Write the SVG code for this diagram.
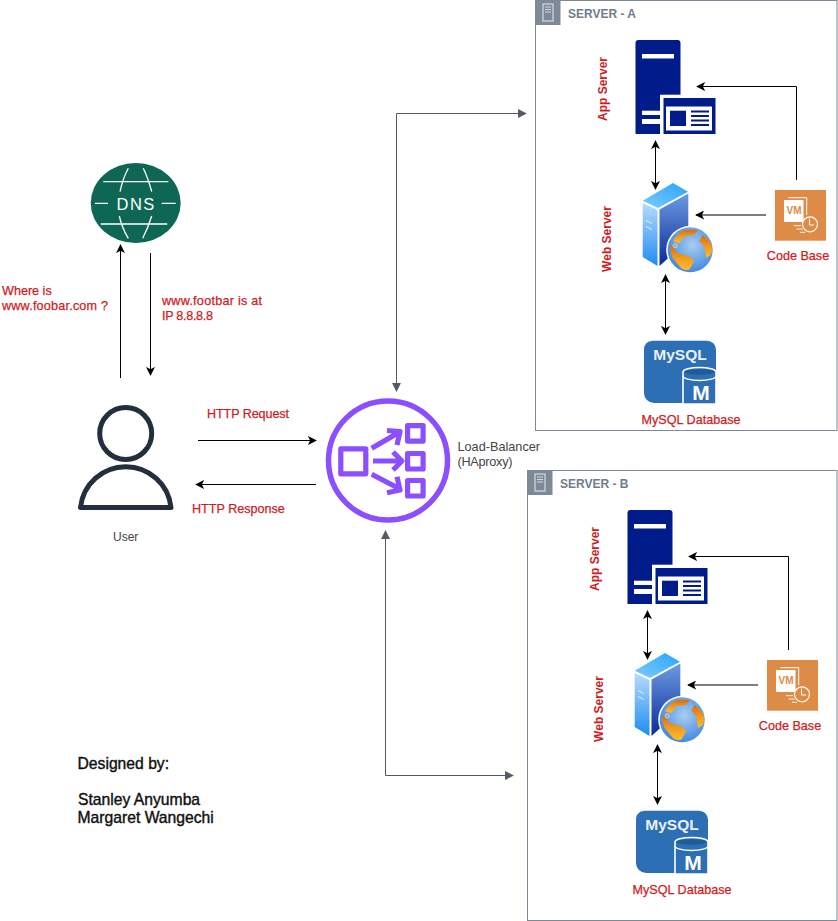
<svg xmlns="http://www.w3.org/2000/svg" width="838" height="921" viewBox="0 0 838 921">
<style>
text{font-family:"Liberation Sans",Arial,sans-serif}
.red{fill:#d01c1f;font-size:12px;font-weight:bold}
.redn{fill:#d01c1f;stroke:#d01c1f;stroke-width:0.25px;font-size:12.600px}
.grey{fill:#444;font-size:12.700px}
.des{fill:#111;stroke:#111;stroke-width:0.4px;font-size:15.700px}
.hdr{fill:#6f7c8c;font-size:12px;font-weight:bold}
.blk{fill:none;stroke:#000;stroke-width:1}
.gr{fill:none;stroke:#545b64;stroke-width:1}
.box{fill:#fff;stroke:#7d8998;stroke-width:1}
.w{fill:#fff}
.nb{fill:#001b8a}
</style>
<defs>
<marker id="ab" viewBox="0 0 10 10" refX="9" refY="5" markerWidth="9" markerHeight="9" markerUnits="userSpaceOnUse" orient="auto-start-reverse"><path d="M0 0L10 5L0 10L2.500 5Z" fill="#000"/></marker>
<marker id="ag" viewBox="0 0 10 10" refX="9" refY="5" markerWidth="9" markerHeight="9" markerUnits="userSpaceOnUse" orient="auto-start-reverse"><path d="M0 0L10 5L0 10Z" fill="#545b64"/></marker>
<linearGradient id="srvTop" x1="0" y1="1" x2="1" y2="0"><stop offset="0" stop-color="#7ccbff"/><stop offset="1" stop-color="#2aa5f7"/></linearGradient>
<linearGradient id="srvL" x1="0" y1="0" x2="0" y2="1"><stop offset="0" stop-color="#b5dcfd"/><stop offset="1" stop-color="#1e8cf2"/></linearGradient>
<linearGradient id="srvR" x1="0" y1="0" x2="0" y2="1"><stop offset="0" stop-color="#6c9be0"/><stop offset="1" stop-color="#0a2a9a"/></linearGradient>
<radialGradient id="sea" cx="0.55" cy="0.4" r="0.7"><stop offset="0" stop-color="#a9cdf0"/><stop offset="1" stop-color="#2f7fe0"/></radialGradient>
<linearGradient id="land" x1="0" y1="0" x2="0" y2="1"><stop offset="0" stop-color="#d96a12"/><stop offset="0.5" stop-color="#f09a1c"/><stop offset="1" stop-color="#ffbb30"/></linearGradient>
<g id="hdrIcon">
<rect x="0" y="0" width="25" height="25" fill="#7d8998"/>
<rect x="7.500" y="4" width="10" height="17" fill="none" stroke="#d5dae0" stroke-width="1.200"/>
<path d="M9.500 7h6M9.500 9.500h6M9.500 12h6" stroke="#d5dae0" stroke-width="1"/>
</g>
<g id="appIcon">
<path class="nb" d="M635.500 43a3 3 0 0 1 3-3h39a3 3 0 0 1 3 3v91h-45z"/>
<rect class="w" x="642" y="54" width="32" height="4.500"/>
<rect class="w" x="642" y="110.700" width="19" height="4.300"/>
<rect class="w" x="642" y="119" width="19" height="5"/>
<rect class="w" x="660" y="94.700" width="56" height="39.300"/>
<rect class="nb" x="663.500" y="98" width="52" height="36"/>
<rect class="w" x="666" y="106.500" width="46" height="24"/>
<rect class="nb" x="670" y="110.700" width="16" height="15.300"/>
<path d="M691 111.500h18M691 116h18M691 120.500h18M691 125h18" stroke="#001b8a" stroke-width="2"/>
</g>
<g id="webIcon">
<path d="M642.700 200.700L673 183L688 191.700L658 208Z" fill="url(#srvTop)"/>
<path d="M642.700 203L657.500 210V266L642.700 257Z" fill="url(#srvL)"/>
<path d="M659.500 209.500L688.300 193.500V240L659.500 266Z" fill="url(#srvR)"/>
<path d="M646 220.500l6 3M646 226.500l6 3" stroke="#e8f2fc" stroke-width="1"/>
<circle cx="690.200" cy="249.800" r="24" fill="#fff"/>
<circle cx="690.200" cy="249.800" r="22.500" fill="url(#sea)"/>
<path d="M672.700 241.300Q678 232 686 229.700L697.700 229.700L694.300 234.700L684.300 236.300L679.300 243Z" fill="url(#land)"/>
<path d="M671 244.700L677.700 253L689.300 256.300L694.300 261.300L689.300 269.700Q684 271 681 268L672.700 258Q669 250 671 244.700Z" fill="url(#land)"/>
<path d="M702.700 234.700L711 243Q713 250 711 254.700L706 258L704.300 246.300L699.300 241.300Z" fill="url(#land)"/>
<circle cx="675.300" cy="245.700" r="2.200" fill="#8fb5dc" stroke="#e6c9a0" stroke-width="0.800"/>
</g>
<g id="vmIcon">
<rect x="775" y="190" width="51" height="50.700" fill="#dd8b47"/>
<path d="M788.300 197.700H806.700V215" fill="none" stroke="#fff" stroke-width="1"/>
<rect x="784" y="200" width="19.500" height="22" fill="#fff"/>
<text x="794" y="214.300" text-anchor="middle" style="font-size:10px;font-weight:bold;fill:#dd8b47">VM</text>
<circle cx="810" cy="224.300" r="7.500" fill="#dd8b47" stroke="#fff" stroke-width="1.200"/>
<path d="M809.500 218.500v6.500h4.500" fill="none" stroke="#fff" stroke-width="1"/>
<path d="M794 225.700h7M796.700 229h6M800 232.300h5" stroke="#fff" stroke-width="0.900"/>
</g>
<g id="mysqlIcon">
<path d="M652 340.700h55a9 9 0 0 1 9 9v53.300h-62a10 10 0 0 1-10-10v-44a8 8 0 0 1 8-8z" fill="#2d6fb5"/>
<text x="680" y="359.500" text-anchor="middle" style="font-size:15.500px;font-weight:bold;fill:#eaf1f8">MySQL</text>
<path d="M683 372a16.500 4.500 0 0 1 33 0v32h-33z" fill="#2d6fb5" stroke="#fff" stroke-width="1.600"/>
<path d="M683 376a16.500 4.500 0 0 0 33 0" fill="none" stroke="#fff" stroke-width="1.400"/>
<ellipse cx="699.500" cy="372" rx="14.500" ry="2.800" fill="#1f5a99"/>
<text x="701" y="399.500" text-anchor="middle" style="font-size:21px;font-weight:bold;fill:#fff">M</text>
</g>
</defs>
<rect width="838" height="921" fill="#fff"/>

<g id="server-a">
<rect class="box" x="535.500" y="0.500" width="301.500" height="430"/>
<use href="#hdrIcon" x="535.500" y="0"/>
<text class="hdr" x="568" y="18">SERVER - A</text>
</g>
<g id="server-b">
<rect class="box" x="527.500" y="470.500" width="309.500" height="450"/>
<use href="#hdrIcon" x="527.500" y="470"/>
<text class="hdr" x="560" y="488">SERVER - B</text>
</g>

<g id="connectors">
<path class="blk" marker-end="url(#ab)" d="M120.500 378V245"/>
<path class="blk" marker-end="url(#ab)" d="M150.500 253V375"/>
<path class="blk" marker-end="url(#ab)" d="M198 440.500H316"/>
<path class="blk" marker-end="url(#ab)" d="M316 484.500H196"/>
<path class="gr" marker-start="url(#ag)" marker-end="url(#ag)" d="M396.500 391V113.500H526"/>
<path class="gr" marker-start="url(#ag)" marker-end="url(#ag)" d="M385.500 531V775.500H513"/>
<g id="conn-a">
<path class="blk" marker-end="url(#ab)" d="M796.500 180V86.500H697"/>
<path class="blk" marker-end="url(#ab)" d="M766 215H696"/>
<path class="blk" marker-start="url(#ab)" marker-end="url(#ab)" d="M655.500 141V189"/>
<path class="blk" marker-start="url(#ab)" marker-end="url(#ab)" d="M665.500 275V334"/>
</g>
<use href="#conn-a" x="-8" y="470"/>
</g>

<g id="dns">
<ellipse cx="135.700" cy="203" rx="45" ry="40" fill="#0d6754"/>
<text x="136.200" y="209.500" text-anchor="middle" style="font-size:16.500px;fill:#fff;letter-spacing:1.500px">DNS</text>
<path d="M103.300 181.700H168.300M100.700 224H167.300M95 203.300H108M161.700 203.300H175.700M128.300 168.300Q123 178 120 191.700M143.300 168.300Q148 178 151.700 191.700M119.300 216Q122 228 128.300 238.300M151.700 216Q148 228 142.700 238.300" fill="none" stroke="#fff" stroke-width="1.300"/>
</g>
<g id="user">
<circle cx="125.700" cy="433.500" r="26" fill="#fff" stroke="#232f3e" stroke-width="5"/>
<path d="M80.500 507.500A45.500 45.500 0 0 1 171 507.500Z" fill="#fff" stroke="#232f3e" stroke-width="5" stroke-linejoin="round"/>
<text class="grey" style="font-size:12px" x="125.700" y="541" text-anchor="middle">User</text>
</g>
<g id="load-balancer">
<circle cx="388" cy="460.500" r="59.500" fill="#fff" stroke="#8c4fff" stroke-width="5.500"/>
<g fill="none" stroke="#8c4fff" stroke-width="5.200" stroke-linejoin="round">
<rect x="340.800" y="448.800" width="25" height="25"/>
<rect x="407.600" y="425.600" width="15.500" height="15.500"/>
<rect x="407.600" y="453.500" width="15.500" height="15.500"/>
<rect x="407.600" y="480.500" width="15.500" height="15.500"/>
<path d="M371.700 448.300L398 433M387 430.500L400 431.700L397 445M373 461H400M393 452L402 461L393 470M371.700 474.300L398 488M397 476.700L400 490L387 492.700"/>
</g>
<text class="grey" x="457.500" y="451">Load-Balancer</text>
<text class="grey" x="457.500" y="466" textLength="55">(HAproxy)</text>
</g>

<g id="app-server-a"><use href="#appIcon"/><text class="red" transform="translate(607 89) rotate(-90)" text-anchor="middle">App Server</text></g>
<g id="web-server-a"><use href="#webIcon"/><text class="red" transform="translate(611 239) rotate(-90)" text-anchor="middle">Web Server</text></g>
<g id="code-base-a"><use href="#vmIcon"/><text class="redn" x="798" y="259.500" text-anchor="middle">Code Base</text></g>
<g id="mysql-a"><use href="#mysqlIcon"/><text class="redn" x="691" y="424" text-anchor="middle">MySQL Database</text></g>

<g id="app-server-b"><use href="#appIcon" x="-8" y="470"/><text class="red" transform="translate(599 559) rotate(-90)" text-anchor="middle">App Server</text></g>
<g id="web-server-b"><use href="#webIcon" x="-8" y="470"/><text class="red" transform="translate(603 709) rotate(-90)" text-anchor="middle">Web Server</text></g>
<g id="code-base-b"><use href="#vmIcon" x="-8" y="470"/><text class="redn" x="790" y="729.500" text-anchor="middle">Code Base</text></g>
<g id="mysql-b"><use href="#mysqlIcon" x="-8" y="470"/><text class="redn" x="682" y="894" text-anchor="middle">MySQL Database</text></g>

<g id="labels">
<text class="redn" x="2" y="295">Where is</text>
<text class="redn" x="2" y="310" textLength="106">www.foobar.com ?</text>
<text class="redn" x="162" y="305" textLength="100">www.footbar is at</text>
<text class="redn" x="162" y="320" textLength="51">IP 8.8.8.8</text>
<text class="redn" x="207" y="418" textLength="82">HTTP Request</text>
<text class="redn" x="192" y="513">HTTP Response</text>
<text class="des" x="77.500" y="768.500">Designed by:</text>
<text class="des" x="78" y="805">Stanley Anyumba</text>
<text class="des" x="77.500" y="822.500">Margaret Wangechi</text>
</g>
</svg>
